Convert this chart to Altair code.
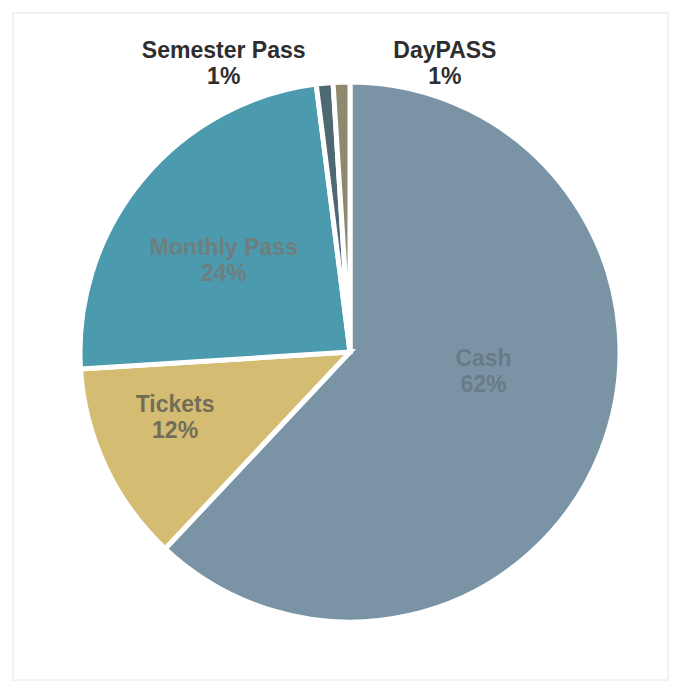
import altair as alt
import pandas as pd

categories = ["Cash", "Tickets", "Monthly Pass", "Semester Pass", "DayPASS"]
shares = [62, 12, 24, 1, 1]
pct_labels = ["62%", "12%", "24%", "1%", "1%"]
colors = ["#7b94a5", "#d4bd73", "#4c9aae", "#4e6971", "#8f8a6f"]

df = pd.DataFrame({
    "category": categories,
    "share": shares,
    "pct": pct_labels,
    "order": list(range(len(categories))),
})

base = alt.Chart(df).encode(
    theta=alt.Theta("share:Q", stack=True),
    order=alt.Order("order:Q"),
)

arcs = base.mark_arc(outerRadius=270, stroke="white", strokeWidth=5).encode(
    color=alt.Color("category:N", scale=alt.Scale(domain=categories, range=colors), legend=None)
)


def label(cat, radius, dx, dy, color):
    expr = f"datum.category == '{cat}' ? datum.category + '\\n' + datum.pct : ''"
    return base.transform_calculate(lab=expr).mark_text(
        radius=radius, dx=dx, dy=dy, fontSize=23, fontWeight="bold",
        font="Liberation Sans", color=color, lineBreak="\n", lineHeight=26,
        align="center", baseline="middle",
    ).encode(text="lab:N")


labels = [
    label("Cash", 135, 8, -43, "#687b89"),
    label("Monthly Pass", 156, -6, -5, "#6f7e7f"),
    label("Tickets", 190, -3, -28, "#726d57"),
    label("Semester Pass", 290, -99, -12, "#2e2e2e"),
    label("DayPASS", 290, 104, -11, "#2e2e2e"),
]

frame = alt.Chart(pd.DataFrame({"a": [0]})).mark_rect(
    fill=None, stroke="#f2f2f2", strokeWidth=2
).encode(
    x=alt.value(-37), x2=alt.value(618), y=alt.value(-39), y2=alt.value(628)
)

chart = alt.layer(frame, arcs, *labels).properties(
    width=600, height=600,
    autosize=alt.AutoSizeParams(type="none"),
    padding={"left": 50, "top": 52, "right": 23, "bottom": 36},
    background="white",
).configure_view(stroke=None)

chart.save("out.html", embed_options={"renderer": "svg", "actions": False})
